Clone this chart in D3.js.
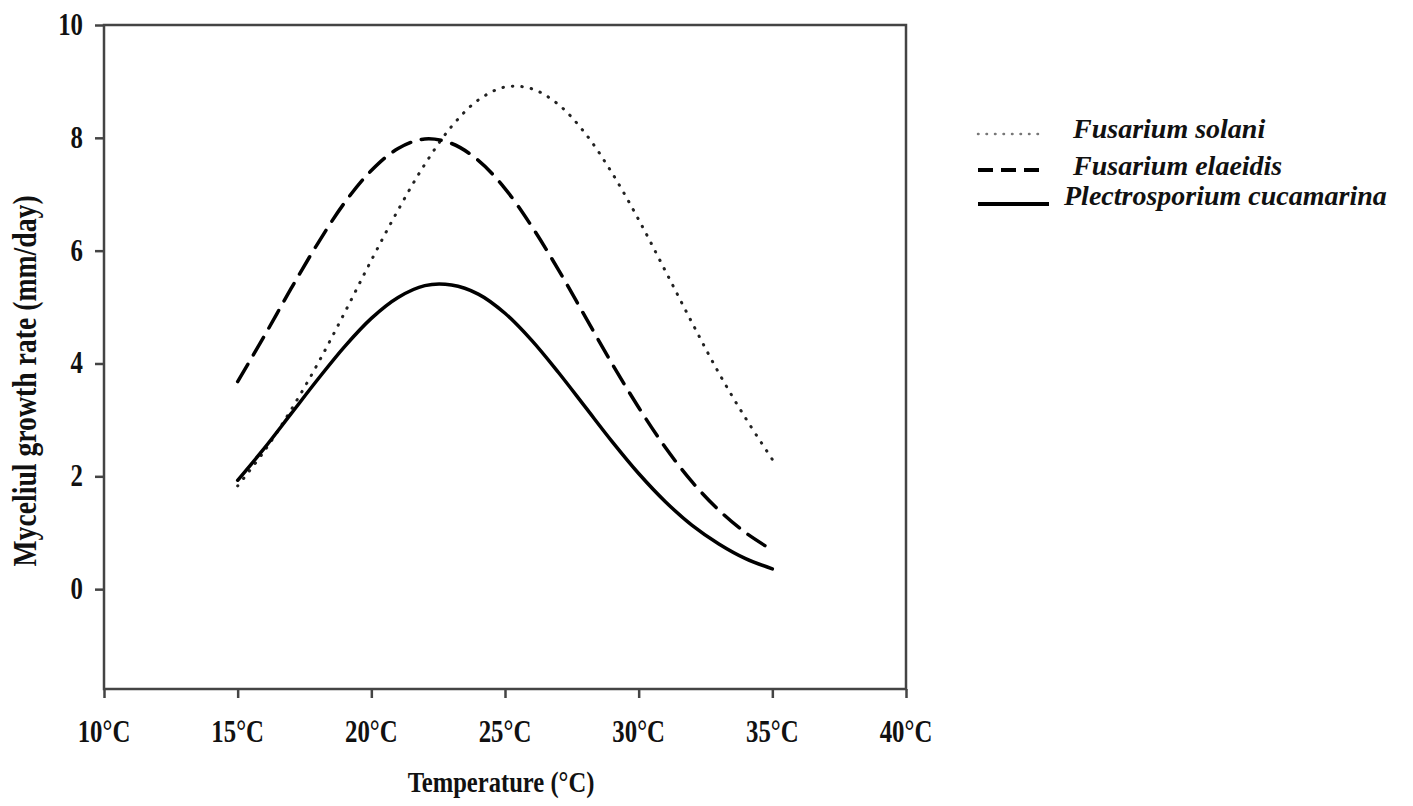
<!DOCTYPE html>
<html>
<head>
<meta charset="utf-8">
<script src="https://cdn.jsdelivr.net/npm/d3@7"></script>
<style>
  html, body { margin: 0; padding: 0; background: #fff; }
  svg { display: block; }
  text { font-family: "Liberation Serif", "Times New Roman", serif; font-weight: bold; fill: #111; }
</style>
</head>
<body>
<div id="chart"></div>
<script>
// temperatures (°C) sampled along the curves
const temps = [15, 16, 17, 18, 19, 20, 21, 22, 23, 24, 25, 26, 27, 28, 29, 30, 31, 32, 33, 34, 35];

// mycelial growth rate (mm/day)
const solani = [1.83, 2.45, 3.18, 4.00, 4.90, 5.83, 6.72, 7.53, 8.20, 8.67, 8.90, 8.87, 8.59, 8.08, 7.38, 6.55, 5.64, 4.72, 3.83, 3.03, 2.30];
const elaeidis = [3.68, 4.49, 5.33, 6.13, 6.85, 7.42, 7.81, 7.98, 7.90, 7.60, 7.10, 6.43, 5.66, 4.83, 4.00, 3.22, 2.51, 1.90, 1.40, 1.00, 0.69];
const cucamarina = [1.93, 2.50, 3.11, 3.72, 4.30, 4.80, 5.17, 5.38, 5.39, 5.23, 4.89, 4.41, 3.84, 3.23, 2.62, 2.05, 1.55, 1.13, 0.80, 0.54, 0.36];

const seriesNames = ["Fusarium solani", "Fusarium elaeidis", "Plectrosporium cucamarina"];
const xTicks = [10, 15, 20, 25, 30, 35, 40];
const yTicks = [0, 2, 4, 6, 8, 10];

const width = 1413, height = 806;
const plotL = 104, plotR = 906, plotT = 25, plotB = 689;

const svg = d3.select("#chart").append("svg")
  .attr("width", width).attr("height", height);

const x = d3.scaleLinear().domain([10, 40]).range([plotL, plotR]);
const y = d3.scaleLinear().domain([-1.77, 10]).range([plotB, plotT]);

// condensed bold serif text helper
function label(g, str, tx, ty, size, sx, anchor) {
  return g.append("text")
    .attr("transform", `translate(${tx},${ty}) scale(${sx},1)`)
    .attr("text-anchor", anchor)
    .attr("font-size", size)
    .text(str);
}

// axes
const xAxis = svg.append("g")
  .attr("transform", `translate(0,${plotB})`)
  .call(d3.axisBottom(x).tickValues(xTicks).tickSize(9).tickFormat(""));
const yAxis = svg.append("g")
  .attr("transform", `translate(${plotL},0)`)
  .call(d3.axisLeft(y).tickValues(yTicks).tickSize(9).tickFormat(""));
[xAxis, yAxis].forEach(a => {
  a.select(".domain").remove();
  a.selectAll("line").attr("stroke", "#444").attr("stroke-width", 2.5);
});

// frame
svg.append("rect")
  .attr("x", plotL).attr("y", plotT)
  .attr("width", plotR - plotL).attr("height", plotB - plotT)
  .attr("fill", "none").attr("stroke", "#444").attr("stroke-width", 2.5);

// tick labels
xTicks.forEach(t => label(svg, t + "°C", x(t), 742, 31, 0.8, "middle"));
yTicks.forEach(t => label(svg, String(t), 83, y(t) + 10, 31, 0.8, "end"));

// axis titles
label(svg, "Temperature (°C)", 501, 792, 30, 0.82, "middle");
svg.append("text")
  .attr("transform", "translate(36,381) rotate(-90) scale(0.84,1)")
  .attr("text-anchor", "middle")
  .attr("font-size", 33)
  .text("Myceliul growth rate (mm/day)");

// curves
const line = d3.line()
  .x(d => x(d[0]))
  .y(d => y(d[1]))
  .curve(d3.curveCatmullRom);

const styles = [
  { values: solani, width: 3, dash: "0.5,9", cap: "round", color: "#222" },
  { values: elaeidis, width: 3.5, dash: "20,11", cap: "round", color: "#000" },
  { values: cucamarina, width: 3.5, dash: null, cap: "round", color: "#000" }
];

styles.forEach(s => {
  svg.append("path")
    .datum(temps.map((t, i) => [t, s.values[i]]))
    .attr("d", line)
    .attr("fill", "none")
    .attr("stroke", s.color)
    .attr("stroke-width", s.width)
    .attr("stroke-linecap", s.cap)
    .attr("stroke-dasharray", s.dash);
});

// legend
const legend = [
  { name: seriesNames[0], ly: 134, ty: 138, tx: 1073, x2: 1043, width: 2.5, dash: "0.5,8", color: "#777" },
  { name: seriesNames[1], ly: 170, ty: 175, tx: 1073, x2: 1040, width: 4, dash: "15,8", color: "#000" },
  { name: seriesNames[2], ly: 204, ty: 205, tx: 1064, x2: 1049, width: 4, dash: null, color: "#000" }
];
legend.forEach(l => {
  svg.append("line")
    .attr("x1", 978).attr("x2", l.x2)
    .attr("y1", l.ly).attr("y2", l.ly)
    .attr("stroke", l.color)
    .attr("stroke-width", l.width)
    .attr("stroke-linecap", l.dash && l.dash.startsWith("0.5") ? "round" : "butt")
    .attr("stroke-dasharray", l.dash);
  svg.append("text")
    .attr("x", l.tx).attr("y", l.ty)
    .attr("font-size", 28)
    .attr("font-style", "italic")
    .text(l.name);
});
</script>
</body>
</html>
